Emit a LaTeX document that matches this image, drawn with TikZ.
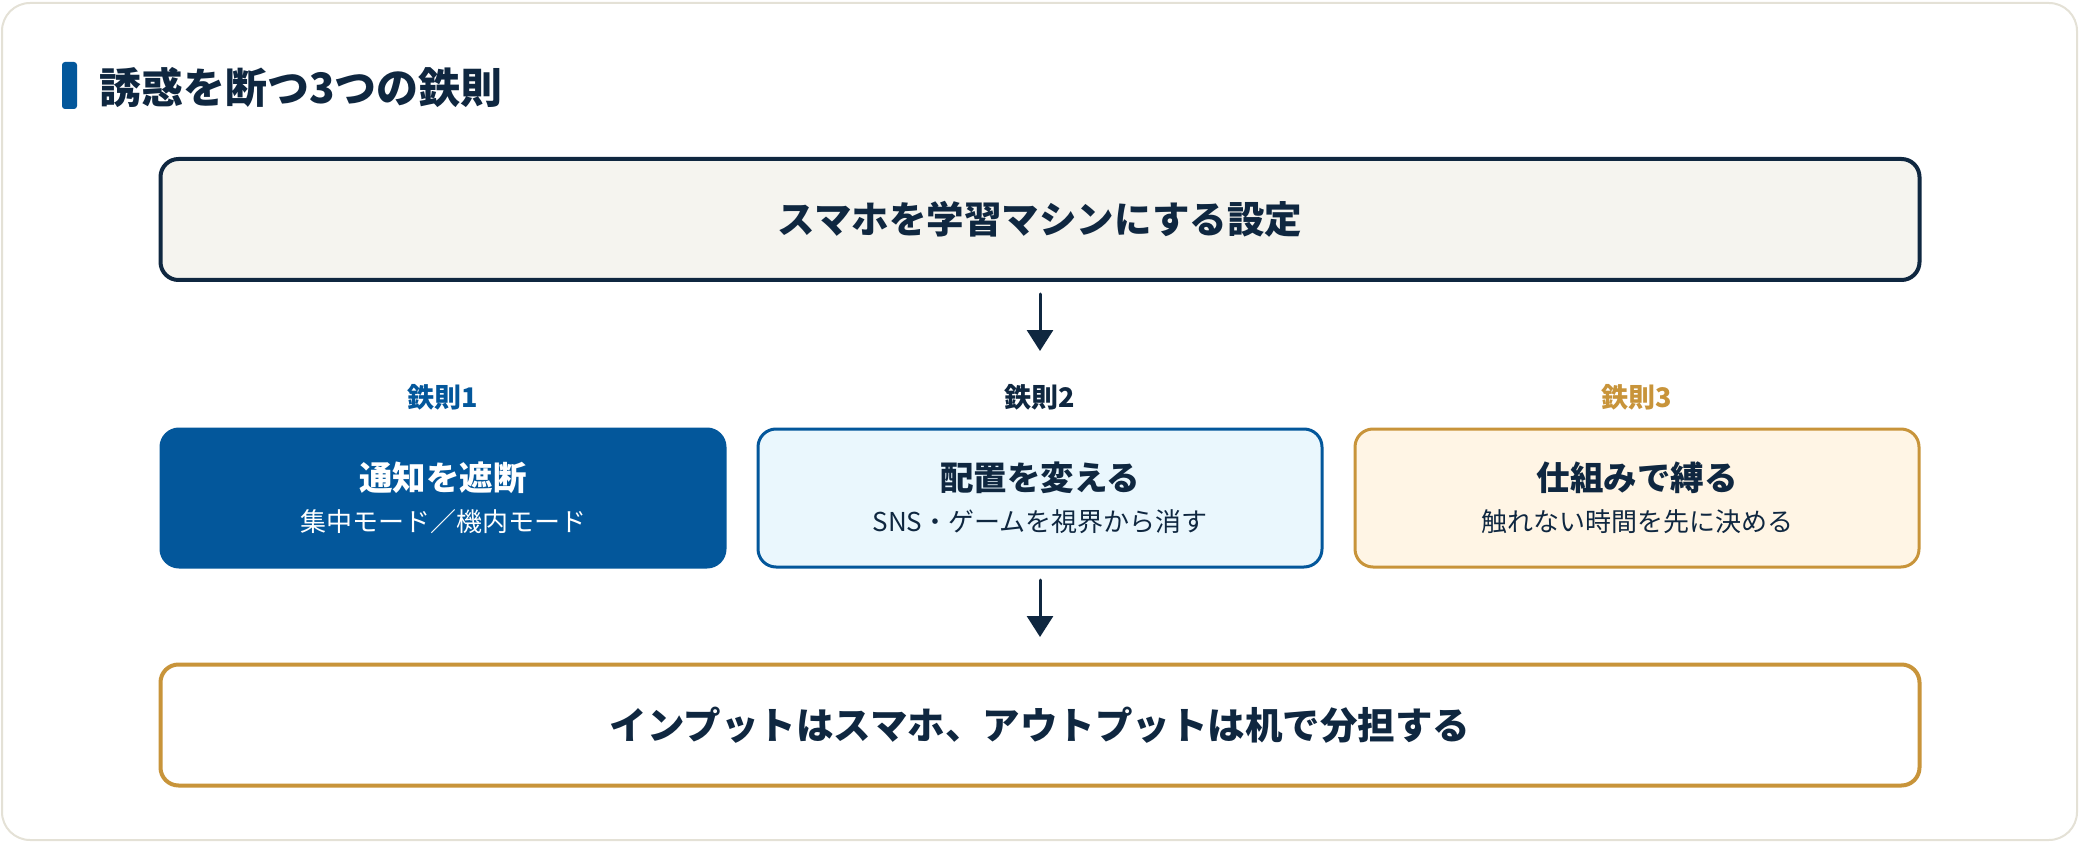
\documentclass[tikz,border=0pt]{standalone}
\usepackage{fontspec}
\setmainfont{Noto Sans CJK JP}
\usetikzlibrary{arrows.meta}

\definecolor{navy}{HTML}{0F2740}
\definecolor{ruleblue}{HTML}{03579B}
\definecolor{gold}{HTML}{C8943A}
\definecolor{framegray}{HTML}{E4E1D6}
\definecolor{paper}{HTML}{F5F4EF}
\definecolor{skyfill}{HTML}{EAF7FD}
\definecolor{creamfill}{HTML}{FFF5E5}

\newcommand\rtitle{\fontsize{33.5}{40}\selectfont\bfseries}

\tikzset{
  bigbox/.style={draw=navy,line width=4pt,rounded corners=18pt,
    minimum width=1759pt,minimum height=121pt,text=navy,
    font=\fontsize{37.5}{45}\selectfont\bfseries},
  rulebox/.style={line width=3pt,rounded corners=18pt,
    minimum width=564pt,minimum height=138pt,align=center,
    font=\fontsize{26}{41}\selectfont},
  rulefirst/.style={fill=ruleblue,draw=ruleblue,text=white},
  rulesecond/.style={fill=skyfill,draw=ruleblue,text=navy},
  rulethird/.style={fill=creamfill,draw=gold,text=navy},
  tag/.style={font=\fontsize{27}{32}\selectfont\bfseries,inner sep=0pt},
  flow/.style={->,draw=navy,line width=3pt},
}

\begin{document}
\begin{tikzpicture}[line cap=round,line join=round,>={Triangle[length=21pt,width=26pt]},x=1pt,y=-1pt]
\useasboundingbox (0,0) rectangle (2080,842);
\draw[framegray,fill=white,line width=2pt,rounded corners=28pt] (2,3) rectangle (2077,840);
% heading
\fill[ruleblue,rounded corners=3pt] (62,62) rectangle (77,109);
\node[anchor=west,inner sep=0pt,text=navy,font=\fontsize{42}{50}\selectfont\bfseries] (head) at (99,88) {誘惑を断つ3つの鉄則};
% top and bottom
\node[bigbox,fill=paper] (settings) at (1040,219.5) {スマホを学習マシンにする設定};
\node[bigbox,fill=white,draw=gold] (split) at (1040,725) {インプットはスマホ、アウトプットは机で分担する};
% the three rules
\foreach \n/\cx/\lc/\bx/\ttl/\subt in {1/443/ruleblue/rulefirst/通知を遮断/集中モード／機内モード,
  2/1040/navy/rulesecond/配置を変える/SNS・ゲームを視界から消す,
  3/1637/gold/rulethird/仕組みで縛る/触れない時間を先に決める}
{
\node[tag,text=\lc] (lab\n) at (\cx,397) {鉄則\n};
\node[rulebox,\bx] (rule\n) at (\cx,498) {{\rtitle\ttl}\\\subt};
}
\draw[flow,shorten <=12pt,shorten >=76.5pt] (settings) -- (rule2);
\draw[flow,shorten <=11.5pt,shorten >=25.5pt] (rule2) -- (split);
\end{tikzpicture}
\end{document}
